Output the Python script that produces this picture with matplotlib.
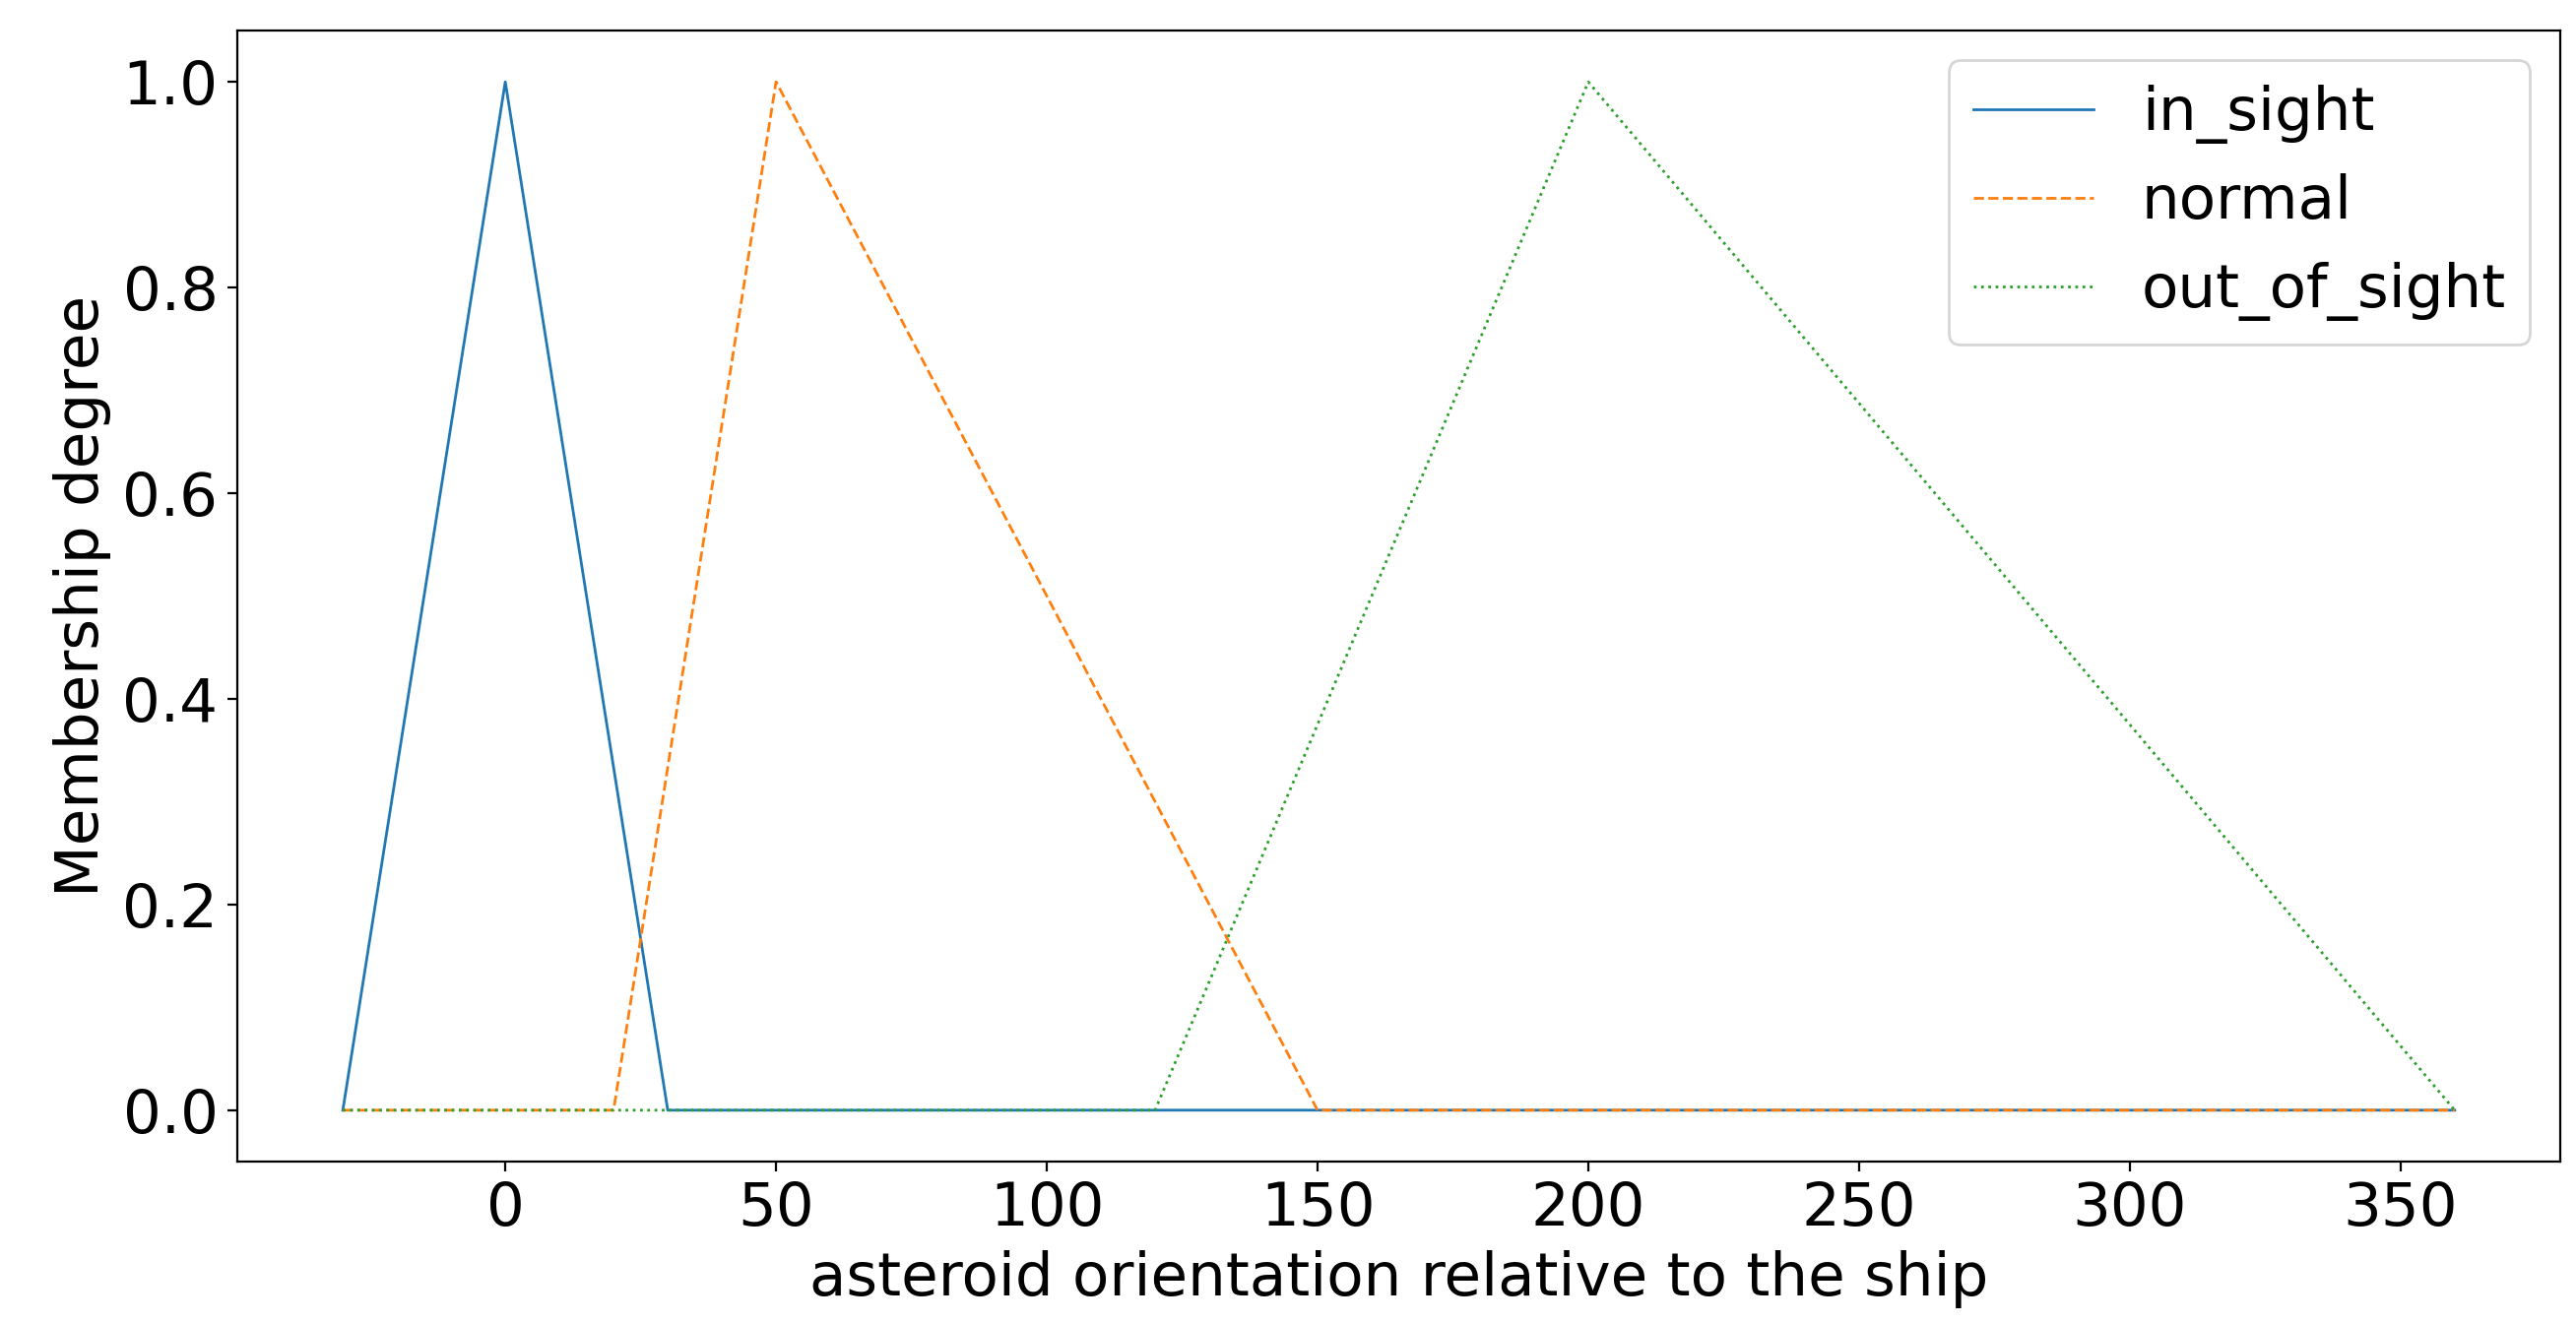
import matplotlib
matplotlib.use("Agg")
import matplotlib.pyplot as plt
import numpy as np

# universe of discourse and triangular membership functions (a, b, c)
x_points = [-30, 0, 20, 30, 50, 120, 150, 200, 360]
labels = ["in_sight", "normal", "out_of_sight"]
in_sight = [-30, 0, 30]
normal = [20, 50, 150]
out_of_sight = [120, 200, 360]
styles = ["-", "--", ":"]


def trimf(x, abc):
    a, b, c = abc
    y = np.zeros_like(x, dtype=float)
    up = (x > a) & (x <= b)
    down = (x > b) & (x < c)
    y[up] = (x[up] - a) / (b - a) if b != a else 1.0
    y[down] = (c - x[down]) / (c - b)
    y[x == b] = 1.0
    return y


x = np.array(x_points, dtype=float)

plt.rcParams["font.size"] = 22
fig = plt.figure(figsize=(13.08, 6.72), dpi=200)
ax = fig.add_axes([0.0921, 0.122, 0.9018, 0.855])

for abc, lab, ls in zip([in_sight, normal, out_of_sight], labels, styles):
    ax.plot(x, trimf(x, abc), linestyle=ls, linewidth=1.0, label=lab)

ax.set_xlabel("asteroid orientation relative to the ship")
ax.set_ylabel("Membership degree")
ax.legend(loc="upper right")

fig.savefig("out.png", dpi=200)
